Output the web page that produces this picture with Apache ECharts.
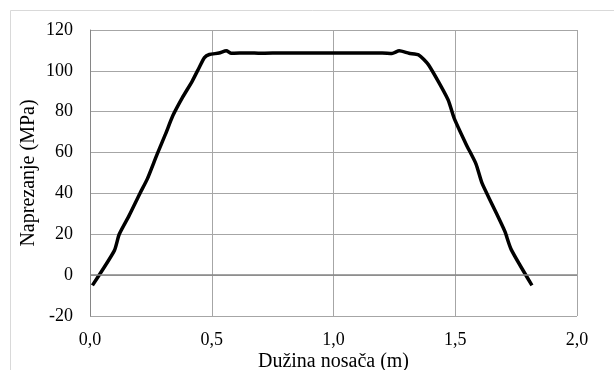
<!DOCTYPE html>
<html><head><meta charset="utf-8">
<script src="https://cdn.jsdelivr.net/npm/echarts@6/dist/echarts.min.js"></script>
<style>html,body{margin:0;padding:0;background:#fff}#c{width:614px;height:370px}</style>
</head><body><div id="c"></div>
<script>
var xValues = [0.01,0.10,0.12,0.16,0.205,0.235,0.275,0.31,0.34,0.38,0.42,0.45,0.47,0.49,0.53,0.56,0.58,0.65,0.70,0.80,0.90,1.00,1.10,1.20,1.24,1.27,1.31,1.35,1.39,1.47,1.495,1.545,1.585,1.61,1.65,1.69,1.705,1.73,1.815];
var stress = [-5,12,20,29,40,47,59,69,78,87,95,102,106.5,108,108.7,109.8,108.6,108.8,108.6,108.8,108.7,108.8,108.7,108.7,108.5,109.8,108.6,107.8,103,86,77,64,54.5,45,35,25,21,12.5,-5];
var xTicks = [0,0.5,1,1.5,2];
var yTicks = [-20,0,20,40,60,80,100,120];
var xTitle = 'Dužina nosača (m)';
var yTitle = 'Naprezanje (MPa)';

var data = xValues.map(function(x,i){return [x, stress[i]];});
var chart = echarts.init(document.getElementById('c'), null, {renderer:'canvas'});
var font = '"Liberation Serif","Times New Roman",serif';
chart.setOption({
  animation:false,
  backgroundColor:'#fff',
  graphic:[{type:'rect',shape:{x:10.5,y:10.5,width:640,height:400},style:{fill:'none',stroke:'#d9d9d9',lineWidth:1},silent:true}],
  grid:{left:90,right:37,top:30,bottom:54,containLabel:false,outerBoundsMode:'none'},
  xAxis:{type:'value',min:xTicks[0],max:xTicks[xTicks.length-1],interval:0.5,
    name:xTitle,nameLocation:'middle',nameGap:36,nameMoveOverlap:false,
    nameTextStyle:{fontFamily:font,fontSize:20,color:'#000'},
    axisLine:{show:false},axisTick:{show:false},
    axisLabel:{margin:15,fontFamily:font,fontSize:18,color:'#000',formatter:function(v){return v.toFixed(1).replace('.',',');}},
    splitLine:{show:true,lineStyle:{color:'#a6a6a6',width:1}}},
  yAxis:{type:'value',min:yTicks[0],max:yTicks[yTicks.length-1],interval:20,
    name:yTitle,nameLocation:'middle',nameGap:51,nameRotate:90,nameMoveOverlap:false,
    nameTextStyle:{fontFamily:font,fontSize:20,color:'#000'},
    axisLine:{show:true,lineStyle:{color:'#868686',width:1}},axisTick:{show:false},
    axisLabel:{margin:17,fontFamily:font,fontSize:18,color:'#000'},
    splitLine:{show:true,lineStyle:{color:'#a6a6a6',width:1}}},
  series:[{type:'line',data:data,showSymbol:false,smooth:0.2,
    lineStyle:{color:'#000',width:3.5},
    markLine:{silent:true,symbol:'none',label:{show:false},
      lineStyle:{color:'#868686',width:1.5,type:'solid'},data:[{yAxis:0}]}}]
});
</script></body></html>
